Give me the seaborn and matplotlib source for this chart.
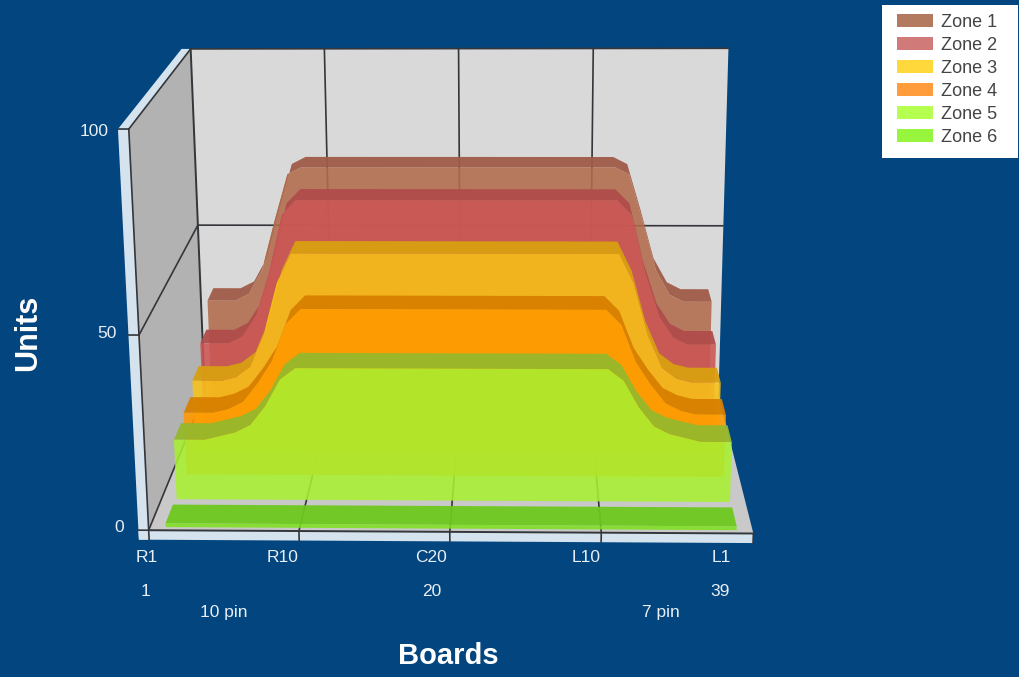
import numpy as np
import seaborn as sns
import matplotlib
matplotlib.use('Agg')
import matplotlib.pyplot as plt
from matplotlib.patches import Patch, Rectangle
from mpl_toolkits.mplot3d.art3d import Poly3DCollection

# boards 2..38 carry data, frame runs 1..39
boards = list(range(2, 39))
zone1 = [32, 32, 32, 34, 41, 55, 68, 70] + [70] * 21 + [70, 68, 55, 41, 34, 32, 32, 32]
zone2 = [25, 25, 25, 27, 33, 45, 61, 65] + [65] * 21 + [65, 61, 45, 33, 27, 25, 25, 25]
zone3 = [20, 20, 20, 21, 24, 33, 47, 55] + [55] * 21 + [55, 47, 33, 24, 21, 20, 20, 20]
zone4 = [17, 17, 17, 18, 20, 25, 31, 41] + [45] * 21 + [41, 31, 25, 20, 18, 17, 17, 17]
zone5 = [16, 16, 16, 17, 18, 20, 25, 32] + [35] * 21 + [32, 25, 20, 18, 17, 16, 16, 16]
zone6 = [1] * 37

zone_names = ['Zone 1', 'Zone 2', 'Zone 3', 'Zone 4', 'Zone 5', 'Zone 6']
zone_values = [zone1, zone2, zone3, zone4, zone5, zone6]
zone_depths = [0.865, 0.70, 0.535, 0.37, 0.20, 0.02]
face_colors = ['#b26c4c', '#cc5555', '#f7c218', '#ff9800', '#a8f030', '#7fe020']
top_colors = ['#a05c48', '#b04c4c', '#d8a010', '#d88000', '#96b82c', '#6ec81e']
legend_colors = ['#b47a60', '#d07a7a', '#ffd83c', '#ff9d3c', '#b4ff50', '#96f53c']

x_ticks = [1, 10.5, 20, 29.5, 39]
x_labels = ['R1', 'R10', 'C20', 'L10', 'L1']

sns.set_theme(style='white')
NAVY = '#03467f'
RIM = '#d5e3ee'
LINE = '#33363a'
W, H = 1019, 677
zone_width = 0.12

fig = plt.figure(figsize=(W / 100, H / 100), dpi=100, facecolor=NAVY)
size = 661
cx, cy = 445.5, 285
ax = fig.add_axes([(cx - size / 2) / W, (H - cy - size / 2) / H, size / W, size / H],
                  projection='3d', computed_zorder=False)
ax.set_axis_off()
ax.patch.set_alpha(0)
ax.set_xlim(1, 39, view_margin=0)
ax.set_ylim(0, 1, view_margin=0)
ax.set_zlim(0, 100, view_margin=0)
ax.set_box_aspect((602, 408, 410), zoom=1.16)
ax.set_proj_type('persp', focal_length=0.62)
ax.view_init(elev=16.5, azim=-88.2, roll=0.4)


def poly(verts, color, z, alpha=1.0):
    p = Poly3DCollection([verts], facecolors=color, edgecolors='none', alpha=alpha, zorder=z)
    ax.add_collection3d(p)


# walls
poly([(1, 1, 0), (39, 1, 0), (39, 1, 100), (1, 1, 100)], '#d9d9d9', 1)
poly([(1, 0, 0), (1, 1, 0), (1, 1, 100), (1, 0, 100)], '#b2b2b2', 1)
poly([(1, 0, 0), (39, 0, 0), (39, 1, 0), (1, 1, 0)], '#c9c9c9', 1)

# rim
poly([(0.35, 0, -2.5), (1, 0, -2.5), (1, 0, 100), (0.35, 0, 100)], RIM, 2)
poly([(0.35, 0, 100), (1, 0, 100), (1, 1, 100), (0.35, 1, 100)], RIM, 2)
poly([(0.35, 0, -2.5), (39, 0, -2.5), (39, 0, 0), (0.35, 0, 0)], RIM, 2)

# grid
for t in x_ticks[1:-1]:
    ax.plot([t, t], [1, 1], [0, 100], color=LINE, lw=1.2, zorder=3)
    ax.plot([t, t], [0, 1], [0, 0], color=LINE, lw=1.2, zorder=3)
for t in x_ticks:
    ax.plot([t, t], [0, 0], [-2.5, 0], color=LINE, lw=1.2, zorder=30)
for v in [0, 50, 100]:
    ax.plot([1, 1], [0, 1], [v, v], color=LINE, lw=1.2, zorder=3)
    ax.plot([0.35, 1], [0, 0], [v, v], color=LINE, lw=1.2, zorder=3)
ax.plot([1, 39], [1, 1], [100, 100], color=LINE, lw=1.2, zorder=3)
ax.plot([1, 39], [1, 1], [50, 50], color=LINE, lw=1.2, zorder=3)
ax.plot([1, 1], [1, 1], [0, 100], color=LINE, lw=1.4, zorder=3)
ax.plot([1, 1], [0, 0], [0, 100], color=LINE, lw=1.2, zorder=3)
ax.plot([1, 39], [0, 0], [0, 0], color=LINE, lw=1.4, zorder=30)

# ribbons, back to front
for i, (vals, d) in enumerate(zip(zone_values, zone_depths)):
    top = [(x, d, v) for x, v in zip(boards, vals)]
    top += [(x, d + zone_width, v) for x, v in zip(boards[::-1], vals[::-1])]
    poly(top, top_colors[i], 10 + 2 * i, alpha=0.95)
    face = [(boards[0], d, 0)] + [(x, d, v) for x, v in zip(boards, vals)] + [(boards[-1], d, 0)]
    poly(face, face_colors[i], 11 + 2 * i, alpha=0.88)

# tick labels and titles
tick_font = dict(color='#e8eef4', fontsize=12.5, family='Liberation Sans', ha='center', va='center')
for label, px in zip(x_labels, [147, 283, 431, 586, 721]):
    fig.text(px / W, 1 - 557 / H, label, **tick_font)
for label, px in zip(['1', '20', '39'], [146, 432, 720]):
    fig.text(px / W, 1 - 591 / H, label, **tick_font)
fig.text(224 / W, 1 - 612 / H, '10 pin', **tick_font)
fig.text(661 / W, 1 - 613 / H, '7 pin', **tick_font)
for label, px, py in zip(['100', '50', '0'], [109, 117, 124], [131, 333, 528]):
    fig.text(px / W, 1 - py / H, label, color='#e8eef4', fontsize=12.5,
             family='Liberation Sans', ha='right', va='center')

fig.text(28 / W, 1 - 333 / H, 'Units', color='white', fontsize=22, fontweight='bold',
         family='Liberation Sans', rotation=90, ha='center', va='center')
fig.text(448 / W, 1 - 656 / H, 'Boards', color='white', fontsize=21, fontweight='bold',
         family='Liberation Sans', ha='center', va='center')

# legend box is wider than its content
fig.add_artist(Rectangle((882 / W, 1 - 158 / H), 136 / W, 153 / H, transform=fig.transFigure,
                         facecolor='white', edgecolor='none'))
handles = [Patch(facecolor=c, edgecolor='none', label=n) for c, n in zip(legend_colors, zone_names)]
leg = fig.legend(handles=handles, loc='upper left', bbox_to_anchor=(897 / W, 1 - 14 / H),
                 borderaxespad=0, frameon=False, labelcolor='#444444',
                 prop={'family': 'Liberation Sans', 'size': 13},
                 handlelength=2.0, handleheight=0.75, handletextpad=0.45,
                 labelspacing=0.33, borderpad=0)
leg.set_zorder(5)

fig.savefig('out.png', dpi=100, facecolor=NAVY)
